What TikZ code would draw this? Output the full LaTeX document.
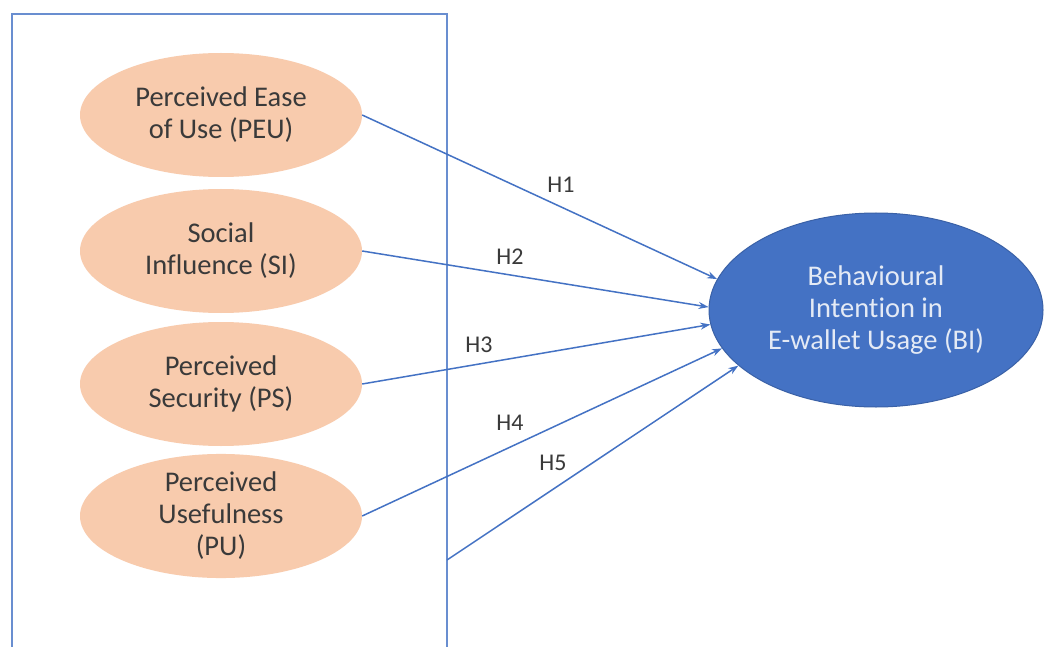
\documentclass[tikz,border=0pt]{standalone}
\usepackage{fontspec}
\setmainfont[Ligatures=NoCommon]{Carlito}
\usetikzlibrary{shapes.geometric,arrows.meta}
\definecolor{peach}{HTML}{F8CBAD}
\definecolor{obl}{HTML}{4472C4}
\definecolor{txt}{HTML}{3A3A3A}
\definecolor{lt}{HTML}{E4EAF5}
\tikzset{
  factor/.style={ellipse, fill=peach, minimum width=282pt, minimum height=124pt, inner sep=0pt,
    align=center, text=txt, font=\fontsize{28.5}{32}\selectfont},
  target/.style={ellipse, fill=obl, draw=obl!85!black, line width=1pt, minimum width=334pt, minimum height=194pt,
    inner sep=0pt, align=center, text=lt, font=\fontsize{28.5}{32}\selectfont},
  link/.style={draw=obl, line width=1.5pt, -{Stealth[length=10pt,width=7pt]}},
  hlabel/.style={text=txt, font=\fontsize{24}{26}\selectfont, inner sep=0pt},
  frame/.style={draw=obl!80!white, line width=2pt}
}
\begin{document}
\begin{tikzpicture}[x=1pt,y=-1pt]
\useasboundingbox (0,0) rectangle (1044,647);
\fill[white] (0,0) rectangle (1044,647);
\draw[frame] (12,648) -- (12,14) -- (447,14) -- (447,648);
\node[factor] (peu) at (221,115) {Perceived Ease\\of Use (PEU)};
\node[factor] (si) at (221,251) {Social\\Influence (SI)};
\node[factor] (ps) at (221,384) {Perceived\\Security (PS)};
\node[factor] (pu) at (221,516) {Perceived\\Usefulness\\(PU)};
\node[target] (bi) at (876,310) {Behavioural\\Intention in\\E-wallet Usage (BI)};
\coordinate (r5) at (447,560);
\draw[link] (peu.east) -- (bi.169.4);
\draw[link] (si.east) -- (bi.179.7);
\draw[link] (ps.east) -- (bi.185.2);
\draw[link] (pu.east) -- (bi.194.4);
\draw[link] (r5) -- (bi.202.4);
\node[hlabel] (h1) at (561,185) {H1};
\node[hlabel] (h2) at (510,257) {H2};
\node[hlabel] (h3) at (479,345) {H3};
\node[hlabel] (h4) at (510,423) {H4};
\node[hlabel] (h5) at (553,463) {H5};
\end{tikzpicture}
\end{document}
